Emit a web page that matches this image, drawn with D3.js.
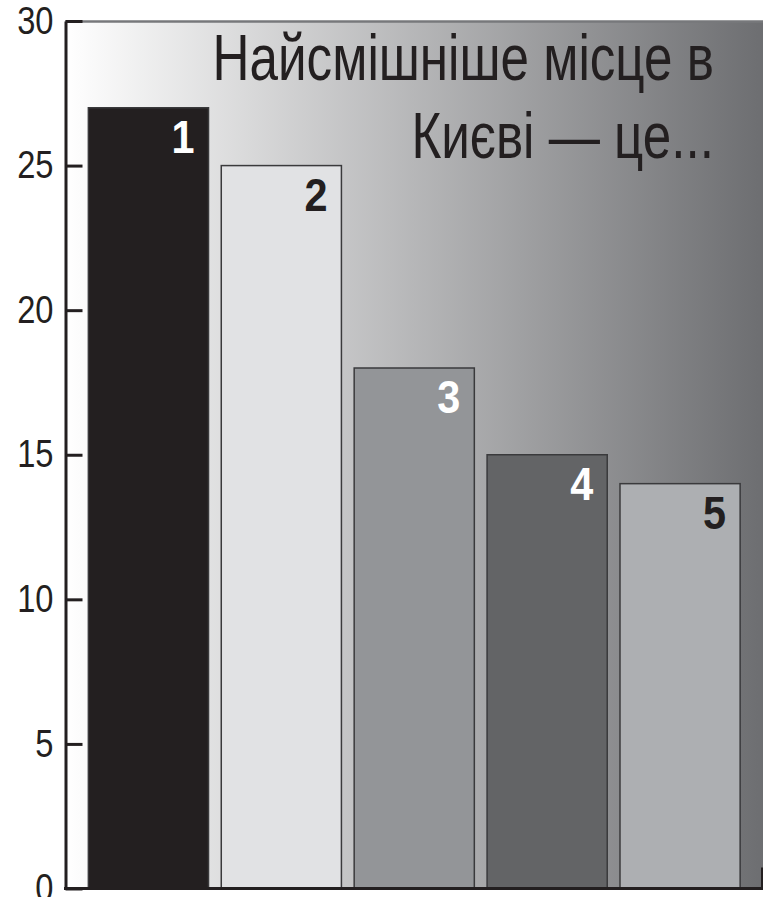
<!DOCTYPE html>
<html>
<head>
<meta charset="utf-8">
<script src="https://cdn.jsdelivr.net/npm/d3@7"></script>
<style>
  body { margin: 0; background: #fff; }
  svg { display: block; font-family: "Liberation Sans", Arial, sans-serif; }
</style>
</head>
<body>
<svg id="chart" width="774" height="897"></svg>
<script>
const ranks = ['1', '2', '3', '4', '5'];
const votes = [27, 25, 18, 15, 14];
const barColors = ['#231f20', '#e1e2e4', '#939598', '#636466', '#adafb2'];
const labelColors = ['#ffffff', '#231f20', '#ffffff', '#ffffff', '#231f20'];
const yTicks = [0, 5, 10, 15, 20, 25, 30];
const titleLines = ['Найсмішніше місце в', 'Києві — це...'];

const svg = d3.select('#chart');
const plotLeft = 65.5, plotRight = 763, plotTop = 21, plotBottom = 888.5;

const y = d3.scaleLinear().domain([0, 30]).range([plotBottom, plotTop]);
const x = d3.scaleBand().domain(ranks).range([plotLeft, plotRight])
    .paddingInner(0.096).paddingOuter(0.172);

// gradient background
const grad = svg.append('defs').append('linearGradient')
    .attr('id', 'bg').attr('x1', '0%').attr('x2', '100%');
grad.append('stop').attr('offset', '0%').attr('stop-color', '#ffffff');
grad.append('stop').attr('offset', '100%').attr('stop-color', '#6d6e71');

svg.append('rect')
    .attr('x', plotLeft).attr('y', plotTop)
    .attr('width', plotRight - plotLeft).attr('height', plotBottom - plotTop)
    .attr('fill', 'url(#bg)');

svg.append('line')
    .attr('x1', plotLeft).attr('x2', plotRight)
    .attr('y1', plotTop + 0.5).attr('y2', plotTop + 0.5)
    .attr('stroke', '#77787b').attr('stroke-width', 2.5);

// title
svg.append('g').selectAll('text')
    .data(titleLines)
    .join('text')
    .attr('transform', (d, i) => `translate(714,${i === 0 ? 80 : 158}) scale(0.8,1)`)
    .attr('text-anchor', 'end')
    .attr('font-size', 64)
    .attr('fill', '#231f20')
    .text(d => d);

// bars
svg.append('g').selectAll('rect')
    .data(votes)
    .join('rect')
    .attr('x', (d, i) => x(ranks[i]))
    .attr('y', d => y(d))
    .attr('width', x.bandwidth())
    .attr('height', d => y(0) - y(d))
    .attr('fill', (d, i) => barColors[i])
    .attr('stroke', '#3a3a3c')
    .attr('stroke-width', 1.5);

svg.append('g').selectAll('text')
    .data(votes)
    .join('text')
    .attr('transform', (d, i) => `translate(${x(ranks[i]) + x.bandwidth() - 14},${y(d) + 45}) scale(0.9,1)`)
    .attr('text-anchor', 'end')
    .attr('font-size', 46)
    .attr('font-weight', 'bold')
    .attr('fill', (d, i) => labelColors[i])
    .text((d, i) => ranks[i]);

// y axis
const yAxis = svg.append('g')
    .attr('transform', `translate(${plotLeft},0)`)
    .call(d3.axisLeft(y).tickValues(yTicks).tickSizeInner(-17).tickSizeOuter(0).tickPadding(12));

yAxis.select('.domain').attr('stroke', '#231f20').attr('stroke-width', 3);
yAxis.selectAll('.tick line').attr('stroke', '#231f20').attr('stroke-width', 3);
yAxis.selectAll('.tick text')
    .attr('x', null)
    .attr('transform', 'translate(-12,0) scale(0.86,1)')
    .attr('font-size', 38)
    .attr('font-family', '"Liberation Sans", Arial, sans-serif')
    .attr('fill', '#231f20');

// baseline
svg.append('line')
    .attr('x1', plotLeft - 1.5).attr('x2', plotRight)
    .attr('y1', plotBottom).attr('y2', plotBottom)
    .attr('stroke', '#231f20').attr('stroke-width', 3);
svg.append('line')
    .attr('x1', plotRight - 1).attr('x2', plotRight - 1)
    .attr('y1', plotBottom).attr('y2', plotBottom - 21)
    .attr('stroke', '#231f20').attr('stroke-width', 2);
</script>
</body>
</html>
